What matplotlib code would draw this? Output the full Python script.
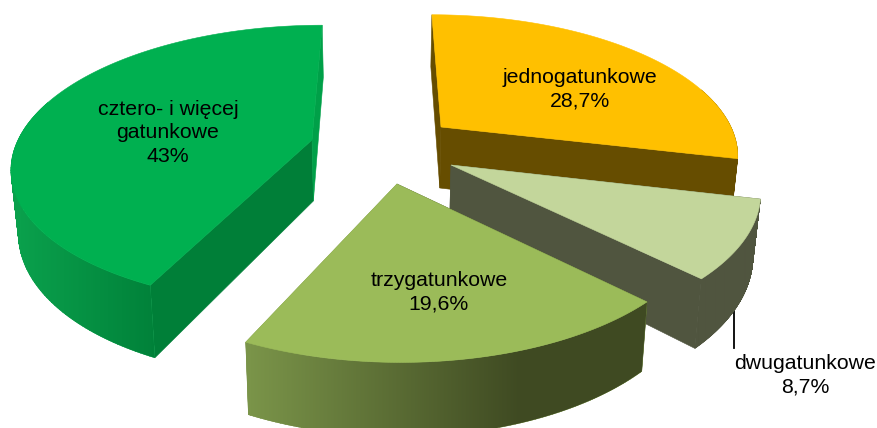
import matplotlib
matplotlib.use("Agg")
import matplotlib.colors as mcolors
import matplotlib.pyplot as plt
import numpy as np
from matplotlib.patches import PathPatch, Polygon
from matplotlib.path import Path

plt.rcParams["font.family"] = ["Liberation Sans", "DejaVu Sans"]

CATEGORIES = ["jednogatunkowe", "dwugatunkowe", "trzygatunkowe", "cztero- i więcej\ngatunkowe"]
VALUES = [28.7, 8.7, 19.6, 43.0]
VALUE_LABELS = ["28,7%", "8,7%", "19,6%", "43%"]

TOP_COLORS = ["#FFC000", "#C3D69B", "#9BBB59", "#00B050"]
START_WALL_COLORS = ["#664D00", "#50553F", "#3F4A22", "#007F38"]
END_WALL_COLORS = ["#664D00", "#50553F", "#7A9449", "#00A048"]
# rim gradient: (left colour, right colour, x start, x end)
RIM_GRADIENTS = [
    ("#664D00", "#664D00", 430, 740),
    ("#50553F", "#50553F", 690, 760),
    ("#7A9449", "#3F4A22", 250, 520),
    ("#0AA04C", "#007F38", 20, 165),
]

# screen geometry of each exploded slice: apex x, apex y, radius x, radius y, skew
GEOMETRY = [
    (441, 127, 290, 132, 0),
    (451, 165, 304, 142, 8),
    (397, 184, 305, 147, 0),
    (312, 140, 294, 135, 0),
]
LABEL_POS = [(580, 89), (805, 375), (439, 292), (168, 133)]
DRAW_ORDER = [3, 0, 1, 2]

VANISH_X = 380
PERSPECTIVE = 0.176
DEPTH = 61
BOTTOM_SCALE = 0.98
WIDTH, HEIGHT = 877, 428


def project(angle, geom):
    cx, cy, rx, ry, skew = geom
    u, v = np.cos(angle), np.sin(angle)
    denom = 1 + PERSPECTIVE * v
    x = VANISH_X + (cx - VANISH_X + rx * u + skew * v) / denom
    y = cy - ry * v / denom
    return np.column_stack([x, y])


def drop(points, depth_factor):
    x = VANISH_X + (points[:, 0] - VANISH_X) * BOTTOM_SCALE
    y = points[:, 1] + DEPTH * depth_factor
    return np.column_stack([x, y])


def ribbon_path(top, low):
    # one quad per arc step so the silhouette at the arc ends stays filled
    verts, codes = [], []
    for i in range(len(top) - 1):
        quad = [top[i], top[i + 1], low[i + 1], low[i]]
        area = sum(quad[j][0] * quad[(j + 1) % 4][1] - quad[(j + 1) % 4][0] * quad[j][1] for j in range(4))
        if area < 0:
            quad = quad[::-1]
        verts += quad + [quad[0]]
        codes += [Path.MOVETO, Path.LINETO, Path.LINETO, Path.LINETO, Path.CLOSEPOLY]
    return Path(verts, codes)


def draw_slice(ax, index, start, end):
    z = 2 + DRAW_ORDER.index(index)
    geom = GEOMETRY[index]
    angles = np.linspace(start, end, 160)
    rim = project(angles, geom)
    factors = 1 / (1 + PERSPECTIVE * np.sin(angles))
    rim_low = drop(rim, factors)
    apex = np.array([[geom[0], geom[1]]], dtype=float)
    apex_low = drop(apex, np.array([1.0]))

    # radial walls, only the parts not covered by the top face stay visible
    start_wall = np.vstack([apex, rim[:1], rim_low[:1], apex_low])
    end_wall = np.vstack([apex, rim[-1:], rim_low[-1:], apex_low])
    for wall, color in [(start_wall, START_WALL_COLORS[index]), (end_wall, END_WALL_COLORS[index])]:
        ax.add_patch(Polygon(wall, closed=True, fc=color, ec=color, linewidth=0.4, zorder=z))

    # rim with left-right gradient, only the front part of the arc shows
    front = np.sin(angles) < 0.3
    path = ribbon_path(rim[front], rim_low[front])
    left, right, x0, x1 = RIM_GRADIENTS[index]
    clip = PathPatch(path, fc=left, ec=left, linewidth=0.3, zorder=z + 0.05)
    ax.add_patch(clip)
    mix = np.clip((np.arange(WIDTH) - x0) / (x1 - x0), 0, 1)[None, :, None]
    colors = (1 - mix) * np.array(mcolors.to_rgb(left)) + mix * np.array(mcolors.to_rgb(right))
    img = ax.imshow(colors, extent=(0, WIDTH, HEIGHT, 0), aspect="auto", zorder=z + 0.1)
    img.set_clip_path(clip)

    ax.add_patch(Polygon(np.vstack([apex, rim]), closed=True, fc=TOP_COLORS[index], ec=TOP_COLORS[index],
                         linewidth=0.4, zorder=z + 0.2))


def main():
    fig = plt.figure(figsize=(WIDTH / 100, HEIGHT / 100), dpi=100)
    ax = fig.add_axes([0, 0, 1, 1])

    # slices run clockwise from the top
    fractions = np.array(VALUES) / sum(VALUES)
    edges = np.pi / 2 - 2 * np.pi * np.concatenate([[0], np.cumsum(fractions)])
    for index in range(len(VALUES)):
        draw_slice(ax, index, edges[index], edges[index + 1])

    ax.set_xlim(0, WIDTH)
    ax.set_ylim(HEIGHT, 0)
    ax.axis("off")

    for name, value, (x, y) in zip(CATEGORIES, VALUE_LABELS, LABEL_POS):
        ax.text(x, y, f"{name}\n{value}", ha="center", va="center", fontsize=15.3, linespacing=1.33,
                color="black", zorder=20)
    ax.plot([734, 734], [306, 348], color="black", linewidth=1.3, zorder=1)

    fig.savefig("out.png", dpi=100)
    plt.close(fig)


if __name__ == "__main__":
    main()
